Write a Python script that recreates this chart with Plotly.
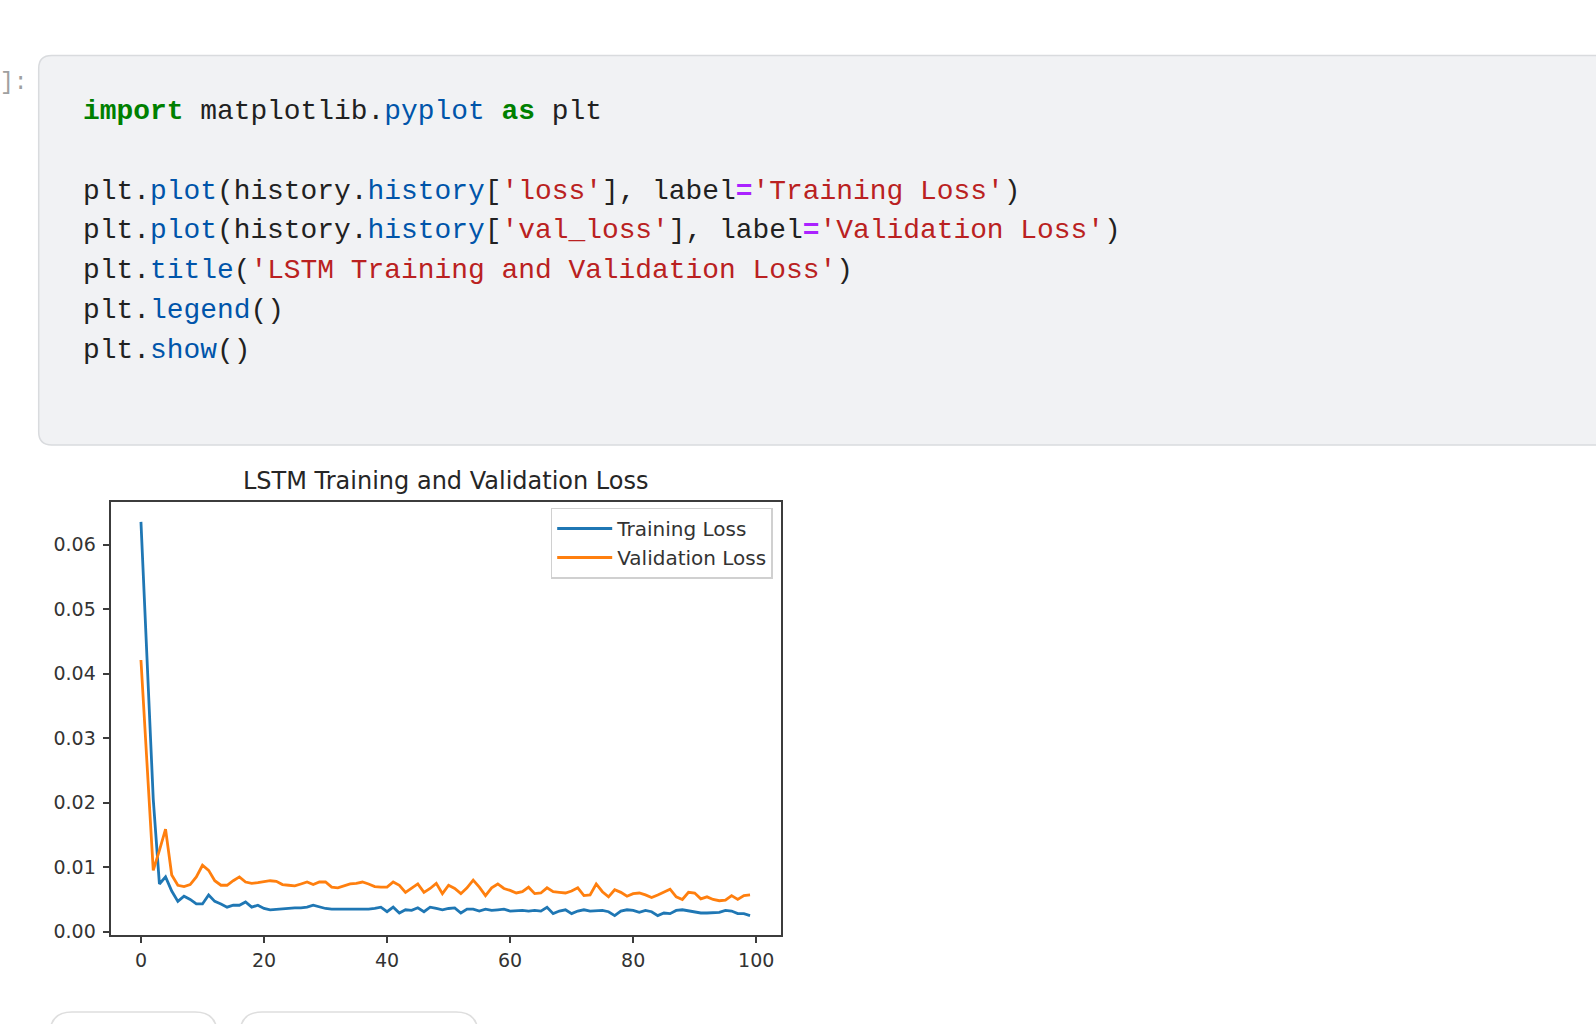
import plotly.graph_objects as go

# loss history
epochs = list(range(100))

training_loss = [
    0.0635, 0.0420, 0.0205, 0.0074, 0.0085, 0.0063, 0.0047, 0.0055, 0.0050, 0.0043,
    0.0043, 0.0057, 0.0047, 0.0043, 0.0038, 0.0041, 0.0041, 0.0046, 0.0038, 0.0041,
    0.0036, 0.0034, 0.0035, 0.0036, 0.0037, 0.0037, 0.0037, 0.0038, 0.0041, 0.0038,
    0.0036, 0.0035, 0.0035, 0.0034, 0.0035, 0.0035, 0.0034, 0.0035, 0.0036, 0.0038,
    0.0031, 0.0038, 0.0029, 0.0034, 0.0033, 0.0037, 0.0031, 0.0038, 0.0036, 0.0034,
    0.0036, 0.0037, 0.0029, 0.0035, 0.0035, 0.0032, 0.0035, 0.0033, 0.0034, 0.0035,
    0.0032, 0.0033, 0.0033, 0.0032, 0.0033, 0.0032, 0.0038, 0.0028, 0.0032, 0.0034,
    0.0028, 0.0032, 0.0034, 0.0032, 0.0032, 0.0033, 0.0031, 0.0025, 0.0032, 0.0034,
    0.0033, 0.0030, 0.0033, 0.0031, 0.0025, 0.0029, 0.0028, 0.0033, 0.0034, 0.0032,
    0.0030, 0.0029, 0.0029, 0.0029, 0.0030, 0.0033, 0.0032, 0.0028, 0.0028, 0.0025,
]

validation_loss = [
    0.0421, 0.0260, 0.0095, 0.0126, 0.0159, 0.0088, 0.0072, 0.0070, 0.0073, 0.0085,
    0.0103, 0.0095, 0.0079, 0.0072, 0.0072, 0.0079, 0.0085, 0.0077, 0.0075, 0.0076,
    0.0078, 0.0079, 0.0078, 0.0073, 0.0072, 0.0071, 0.0074, 0.0077, 0.0073, 0.0077,
    0.0077, 0.0069, 0.0068, 0.0071, 0.0074, 0.0075, 0.0077, 0.0074, 0.0070, 0.0069,
    0.0069, 0.0077, 0.0072, 0.0061, 0.0067, 0.0074, 0.0061, 0.0067, 0.0075, 0.0059,
    0.0072, 0.0067, 0.0059, 0.0068, 0.0080, 0.0069, 0.0056, 0.0068, 0.0074, 0.0067,
    0.0064, 0.0060, 0.0062, 0.0069, 0.0059, 0.0060, 0.0068, 0.0062, 0.0061, 0.0060,
    0.0063, 0.0068, 0.0056, 0.0057, 0.0074, 0.0062, 0.0054, 0.0065, 0.0061, 0.0055,
    0.0059, 0.0060, 0.0057, 0.0053, 0.0057, 0.0061, 0.0066, 0.0054, 0.0050, 0.0061,
    0.0060, 0.0051, 0.0054, 0.0050, 0.0048, 0.0049, 0.0056, 0.0050, 0.0056, 0.0057,
]

y_ticks = [0.00, 0.01, 0.02, 0.03, 0.04, 0.05, 0.06]
x_ticks = [0, 20, 40, 60, 80, 100]

W, H = 1596, 1024


def px(x):
    return x / W


def py(y):
    return 1 - y / H


def rounded_path(x0, y0, x1, y1, r):
    # rounded rectangle in page pixels -> paper path
    rx, ry = r / W, r / H
    a, b, c, d = px(x0), py(y0), px(x1), py(y1)
    return (f"M{a + rx},{b} L{c - rx},{b} Q{c},{b} {c},{b - ry} "
            f"L{c},{d + ry} Q{c},{d} {c - rx},{d} L{a + rx},{d} "
            f"Q{a},{d} {a},{d + ry} L{a},{b - ry} Q{a},{b} {a + rx},{b} Z")


GREEN = "#008000"
BLUE = "#0055aa"
RED = "#ba2121"
PURPLE = "#aa22ff"
TEXT = "#212121"


def c(t, col, bold=False):
    s = f"<span style='color:{col}'>{t}</span>"
    return f"<b>{s}</b>" if bold else s


code_lines = [
    c("import", GREEN, True) + c(" matplotlib.", TEXT) + c("pyplot", BLUE)
    + c(" ", TEXT) + c("as", GREEN, True) + c(" plt", TEXT),
    "",
    c("plt.", TEXT) + c("plot", BLUE) + c("(history.", TEXT) + c("history", BLUE)
    + c("[", TEXT) + c("'loss'", RED) + c("], label", TEXT) + c("=", PURPLE, True)
    + c("'Training Loss'", RED) + c(")", TEXT),
    c("plt.", TEXT) + c("plot", BLUE) + c("(history.", TEXT) + c("history", BLUE)
    + c("[", TEXT) + c("'val_loss'", RED) + c("], label", TEXT) + c("=", PURPLE, True)
    + c("'Validation Loss'", RED) + c(")", TEXT),
    c("plt.", TEXT) + c("title", BLUE) + c("(", TEXT)
    + c("'LSTM Training and Validation Loss'", RED) + c(")", TEXT),
    c("plt.", TEXT) + c("legend", BLUE) + c("()", TEXT),
    c("plt.", TEXT) + c("show", BLUE) + c("()", TEXT),
]

fig = go.Figure()

fig.add_trace(go.Scatter(x=epochs, y=training_loss, mode="lines", name="Training Loss",
                         line=dict(color="#1f77b4", width=2.8)))
fig.add_trace(go.Scatter(x=epochs, y=validation_loss, mode="lines", name="Validation Loss",
                         line=dict(color="#ff7f0e", width=2.8)))

shapes = [
    # code cell
    dict(type="path", xref="paper", yref="paper",
         path=rounded_path(38.7, 56, 1640, 448, 13),
         fillcolor="#f1f2f4", line=dict(color="#d9dbde", width=1.5), layer="below"),
    # buttons peeking in at the bottom
    dict(type="path", xref="paper", yref="paper",
         path=rounded_path(50, 1019, 217, 1090, 22),
         fillcolor="white", line=dict(color="#dedede", width=1.5)),
    dict(type="path", xref="paper", yref="paper",
         path=rounded_path(240, 1019, 478, 1090, 22),
         fillcolor="white", line=dict(color="#dedede", width=1.5)),
]

annotations = [
    dict(text="]:", x=px(30), y=py(84), xref="paper", yref="paper",
         xanchor="right", yanchor="middle", showarrow=False,
         font=dict(family="Liberation Mono", size=23, color="#a0a0a0")),
    dict(text="LSTM Training and Validation Loss", x=px(445.5), y=py(484),
         xref="paper", yref="paper", xanchor="center", yanchor="middle",
         showarrow=False, font=dict(family="DejaVu Sans", size=24, color="#262626")),
]
line_y = 112.5
for line in code_lines:
    if line:
        annotations.append(dict(
            text=line, x=px(81.4), y=py(line_y), xref="paper", yref="paper",
            xanchor="left", yanchor="middle", showarrow=False, align="left",
            font=dict(family="Liberation Mono", size=27.9, color=TEXT)))
    line_y += 40

axis_common = dict(
    showgrid=False, zeroline=False, showline=True, mirror=True,
    linecolor="#3c3c3c", linewidth=1.8, ticks="outside", ticklen=6,
    tickwidth=1.6, tickcolor="#3c3c3c",
    tickfont=dict(family="DejaVu Sans", size=19, color="#333333"),
)

fig.update_layout(
    width=W, height=H, autosize=False,
    margin=dict(l=0, r=0, t=0, b=0),
    paper_bgcolor="white", plot_bgcolor="white",
    xaxis=dict(domain=[px(110.5), px(780.5)], range=[-4.95, 103.95],
               tickvals=x_ticks, ticklabelstandoff=1, **axis_common),
    yaxis=dict(domain=[py(941.7), py(505.7)], range=[-0.00055, 0.06655],
               tickvals=y_ticks, tickformat=".2f", ticklabelstandoff=3, **axis_common),
    legend=dict(x=px(550.7), y=py(511), xanchor="left", yanchor="top",
                bgcolor="white", bordercolor="#d0d0d0", borderwidth=1.5,
                font=dict(family="DejaVu Sans", size=20, color="#333333"),
                itemwidth=55, tracegroupgap=4),
    shapes=shapes,
    annotations=annotations,
    showlegend=True,
)

fig.write_html("out.html", config={"displayModeBar": False},
               post_script="document.body.style.margin='0';document.body.style.overflow='hidden';")
